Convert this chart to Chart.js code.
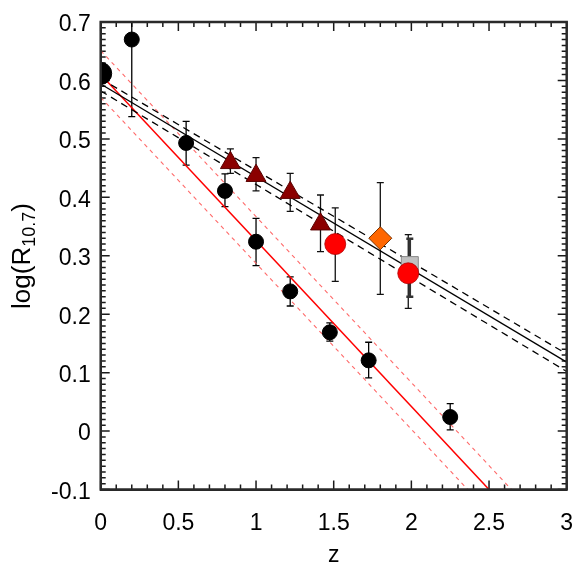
<!DOCTYPE html>
<html>
<head>
<meta charset="utf-8">
<script src="https://cdn.jsdelivr.net/npm/chart.js@4.4.1/dist/chart.umd.min.js"></script>
<style>
  body { margin: 0; background: #fff; }
  canvas { display: block; }
</style>
</head>
<body>
<canvas id="myChart" width="581" height="581"></canvas>
<script>
// axis ticks
var xTicks = [0, 0.5, 1, 1.5, 2, 2.5, 3];
var yTicks = [-0.1, 0, 0.1, 0.2, 0.3, 0.4, 0.5, 0.6, 0.7];

// black points with errors
var blackZ  = [0.2, 0.55, 0.8, 1.0, 1.22, 1.475, 1.725, 2.25];
var blackY  = [0.670, 0.493, 0.411, 0.324, 0.239, 0.169, 0.121, 0.024];
var blackLo = [0.538, 0.455, 0.384, 0.283, 0.214, 0.154, 0.091, 0.002];
var blackHi = [0.802, 0.530, 0.440, 0.364, 0.264, 0.185, 0.152, 0.047];

// local value (big point at z=0)
var localZ = [0];
var localY = [0.612];

// dark red triangles
var triZ  = [0.835, 1.0, 1.22, 1.415];
var triY  = [0.459, 0.437, 0.408, 0.354];
var triLo = [0.441, 0.411, 0.376, 0.307];
var triHi = [0.483, 0.468, 0.441, 0.404];

// red circles
var redZ  = [1.51, 1.98];
var redY  = [0.320, 0.270];
var redLo = [0.256, 0.210];
var redHi = [0.382, 0.336];

// orange diamond
var diaZ  = [1.80];
var diaY  = [0.330];
var diaLo = [0.234];
var diaHi = [0.425];

// grey square
var sqZ  = [1.99];
var sqY  = [0.284];
var sqLo = [0.230];
var sqHi = [0.329];

// fits (end points)
var fitZ = [0, 3];
var blackFit   = [0.594, 0.118];
var blackFitUp = [0.603, 0.132];
var blackFitLo = [0.582, 0.102];
var redFit   = [0.610, -0.242];
var redFitUp = [0.651, -0.201];
var redFitLo = [0.571, -0.281];

function pts(xs, ys) {
    return xs.map(function(x, i) { return { x: x, y: ys[i] }; });
}

var errorSets = [
    { z: blackZ, lo: blackLo, hi: blackHi, color: '#000', width: 1.3 },
    { z: triZ, lo: triLo, hi: triHi, color: '#111', width: 1.3 },
    { z: redZ, lo: redLo, hi: redHi, color: '#111', width: 1.3 },
    { z: diaZ, lo: diaLo, hi: diaHi, color: '#111', width: 1.3 },
    { z: sqZ, lo: sqLo, hi: sqHi, color: '#333', width: 2.5 }
];

var FONT = '"Liberation Sans", Arial, sans-serif';

// inward ticks on all sides and error bars (under the markers)
var boxAndErrors = {
    id: 'boxAndErrors',
    beforeDatasetsDraw: function(chart) {
        var ctx = chart.ctx, a = chart.chartArea;
        var xs = chart.scales.x, ys = chart.scales.y;

        ctx.save();
        ctx.strokeStyle = '#1a1a1a';
        ctx.lineWidth = 1.5;
        ctx.beginPath();
        for (var i = 0; i <= 30; i++) {
            var px = xs.getPixelForValue(i / 10);
            var len = (i % 5 === 0) ? 9 : 5;
            ctx.moveTo(px, a.bottom); ctx.lineTo(px, a.bottom - len);
            ctx.moveTo(px, a.top); ctx.lineTo(px, a.top + len);
        }
        for (var j = -10; j <= 70; j++) {
            var py = ys.getPixelForValue(j / 100);
            var len2 = (j % 10 === 0) ? 9 : 5;
            ctx.moveTo(a.left, py); ctx.lineTo(a.left + len2, py);
            ctx.moveTo(a.right, py); ctx.lineTo(a.right - len2, py);
        }
        ctx.stroke();
        ctx.restore();

        ctx.save();
        ctx.beginPath();
        ctx.rect(a.left, a.top, a.right - a.left, a.bottom - a.top);
        ctx.clip();
        errorSets.forEach(function(s) {
            ctx.strokeStyle = s.color;
            ctx.lineWidth = s.width;
            ctx.beginPath();
            s.z.forEach(function(z, k) {
                var px = xs.getPixelForValue(z);
                var p1 = ys.getPixelForValue(s.lo[k]);
                var p2 = ys.getPixelForValue(s.hi[k]);
                ctx.moveTo(px, p1); ctx.lineTo(px, p2);
                ctx.moveTo(px - 3.5, p1); ctx.lineTo(px + 3.5, p1);
                ctx.moveTo(px - 3.5, p2); ctx.lineTo(px + 3.5, p2);
            });
            ctx.stroke();
        });
        ctx.restore();
    },
    afterDraw: function(chart) {
        var ctx = chart.ctx, a = chart.chartArea;
        ctx.save();
        ctx.strokeStyle = '#2a2a2a';
        ctx.lineWidth = 2.5;
        ctx.strokeRect(a.left, a.top, a.right - a.left, a.bottom - a.top);

        ctx.fillStyle = '#000';
        ctx.textBaseline = 'middle';
        ctx.textAlign = 'center';
        ctx.font = '23px ' + FONT;
        ctx.fillText('z', (a.left + a.right) / 2, 556);

        ctx.translate(23, 256);
        ctx.rotate(-Math.PI / 2);
        ctx.textAlign = 'left';
        var big = '26px ' + FONT, small = '18px ' + FONT;
        ctx.font = big;
        var w1 = ctx.measureText('log(R').width;
        var w3 = ctx.measureText(')').width;
        ctx.font = small;
        var w2 = ctx.measureText('10.7').width;
        var x0 = -(w1 + w2 + w3) / 2;
        ctx.font = big;
        ctx.fillText('log(R', x0, 0);
        ctx.font = small;
        ctx.fillText('10.7', x0 + w1, 7);
        ctx.font = big;
        ctx.fillText(')', x0 + w1 + w2, 0);
        ctx.restore();
    }
};

var ctx = document.getElementById('myChart').getContext('2d');
var myChart = new Chart(ctx, {
    type: 'scatter',
    data: {
        datasets: [{
            label: 'red',
            data: pts(redZ, redY),
            pointStyle: 'circle',
            pointRadius: 10.5,
            backgroundColor: '#ff0000',
            borderColor: '#b00000',
            borderWidth: 0.8,
            order: 1
        }, {
            label: 'square',
            data: pts(sqZ, sqY),
            pointStyle: 'rect',
            pointRadius: 12,
            backgroundColor: '#c0c0c0',
            borderColor: '#8a8a8a',
            borderWidth: 1,
            order: 2
        }, {
            label: 'diamond',
            data: pts(diaZ, diaY),
            pointStyle: 'rectRot',
            pointRadius: 11.5,
            backgroundColor: '#ff6600',
            borderColor: '#7a3300',
            borderWidth: 1,
            order: 3
        }, {
            label: 'triangles',
            data: pts(triZ, triY),
            pointStyle: 'triangle',
            pointRadius: 11.5,
            backgroundColor: '#8b0000',
            borderColor: '#5a0000',
            borderWidth: 1,
            order: 4
        }, {
            label: 'black',
            data: pts(blackZ, blackY),
            pointStyle: 'circle',
            pointRadius: 7.5,
            backgroundColor: '#000',
            borderColor: '#000',
            borderWidth: 1,
            order: 5
        }, {
            label: 'local',
            data: pts(localZ, localY),
            pointStyle: 'circle',
            pointRadius: 11,
            backgroundColor: '#000',
            borderColor: '#000',
            borderWidth: 1,
            clip: 0,
            order: 6
        }, {
            label: 'fit',
            data: pts(fitZ, blackFit),
            showLine: true,
            pointRadius: 0,
            borderColor: '#000',
            borderWidth: 1.3,
            clip: 0,
            order: 7
        }, {
            label: 'fit up',
            data: pts(fitZ, blackFitUp),
            showLine: true,
            pointRadius: 0,
            borderColor: '#000',
            borderWidth: 1.3,
            borderDash: [7, 5],
            clip: 0,
            order: 8
        }, {
            label: 'fit lo',
            data: pts(fitZ, blackFitLo),
            showLine: true,
            pointRadius: 0,
            borderColor: '#000',
            borderWidth: 1.3,
            borderDash: [7, 5],
            clip: 0,
            order: 9
        }, {
            label: 'red fit',
            data: pts(fitZ, redFit),
            showLine: true,
            pointRadius: 0,
            borderColor: '#ff0000',
            borderWidth: 1.5,
            clip: 0,
            order: 10
        }, {
            label: 'red fit up',
            data: pts(fitZ, redFitUp),
            showLine: true,
            pointRadius: 0,
            borderColor: '#ff6a6a',
            borderWidth: 1.1,
            borderDash: [4, 4],
            clip: 0,
            order: 11
        }, {
            label: 'red fit lo',
            data: pts(fitZ, redFitLo),
            showLine: true,
            pointRadius: 0,
            borderColor: '#ff6a6a',
            borderWidth: 1.1,
            borderDash: [4, 4],
            clip: 0,
            order: 12
        }]
    },
    options: {
        responsive: false,
        animation: false,
        events: [],
        layout: { padding: { left: 0, right: 14.3, top: 22, bottom: 0 } },
        plugins: { legend: { display: false }, tooltip: { enabled: false } },
        scales: {
            x: {
                type: 'linear',
                min: 0,
                max: 3,
                grid: { display: false, drawTicks: false },
                border: { display: true, color: '#2a2a2a', width: 2 },
                afterBuildTicks: function(scale) {
                    scale.ticks = xTicks.map(function(v) { return { value: v }; });
                },
                afterFit: function(scale) {
                    scale.height = 91.5;
                    scale.paddingLeft = 0;
                    scale.paddingRight = 0;
                },
                ticks: {
                    padding: 20,
                    color: '#000',
                    maxRotation: 0,
                    font: { family: FONT, size: 23 },
                    callback: function(v) { return String(v); }
                }
            },
            y: {
                type: 'linear',
                min: -0.1,
                max: 0.7,
                grid: { display: false, drawTicks: false },
                border: { display: true, color: '#2a2a2a', width: 2 },
                afterBuildTicks: function(scale) {
                    scale.ticks = yTicks.map(function(v) { return { value: v }; });
                },
                afterFit: function(scale) {
                    scale.width = 100.7;
                    scale.paddingTop = 0;
                    scale.paddingBottom = 0;
                },
                ticks: {
                    padding: 10,
                    labelOffset: 3,
                    color: '#000',
                    font: { family: FONT, size: 23 },
                    callback: function(v) { return String(v); }
                }
            }
        }
    },
    plugins: [boxAndErrors]
});
</script>
</body>
</html>
